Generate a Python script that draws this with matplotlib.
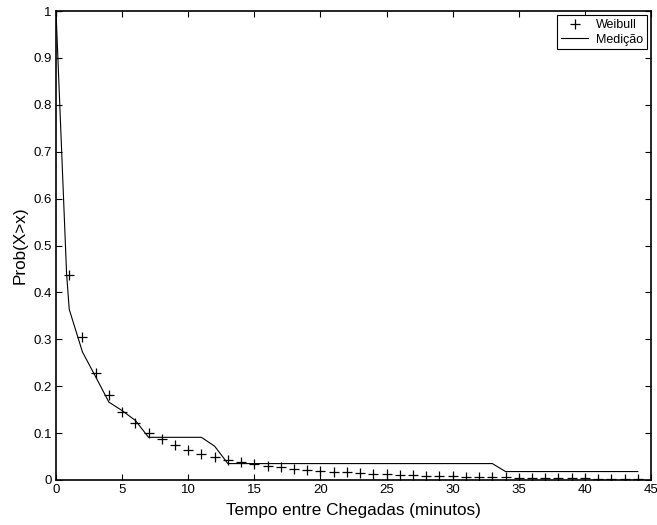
import matplotlib
matplotlib.use("Agg")
import matplotlib.pyplot as plt

plt.rcParams['font.family'] = ['Liberation Sans', 'DejaVu Sans']

# Weibull fit evaluated at integer minutes
weibull_x = list(range(0, 45))
weibull_y = [1.0, 0.437, 0.305, 0.228, 0.182, 0.146, 0.121, 0.101, 0.087, 0.074,
             0.064, 0.056, 0.049, 0.043, 0.038, 0.034, 0.030, 0.027, 0.024, 0.022,
             0.020, 0.018, 0.016, 0.0145, 0.013, 0.012, 0.011, 0.010, 0.009, 0.0083,
             0.0076, 0.007, 0.0064, 0.0059, 0.0054, 0.005, 0.0046, 0.0042, 0.0039, 0.0036,
             0.0033, 0.003, 0.0028, 0.0026, 0.0024]

# Measured complementary CDF
med_x = [0, 0.8] + list(range(1, 45))
med_y = [1.0, 0.44, 0.364, 0.273, 0.220, 0.166, 0.148, 0.127, 0.091, 0.091, 0.091,
         0.091, 0.091, 0.072, 0.035, 0.035, 0.035, 0.035, 0.035, 0.035, 0.035,
         0.035, 0.035, 0.035, 0.035, 0.035, 0.035, 0.035, 0.035, 0.035, 0.035,
         0.035, 0.035, 0.035, 0.035, 0.018, 0.018, 0.018, 0.018, 0.018, 0.018,
         0.018, 0.018, 0.018, 0.018, 0.018]

xticks = [0, 5, 10, 15, 20, 25, 30, 35, 40, 45]
yticks = [0, 0.1, 0.2, 0.3, 0.4, 0.5, 0.6, 0.7, 0.8, 0.9, 1]
yticklabels = ['0', '0.1', '0.2', '0.3', '0.4', '0.5', '0.6', '0.7', '0.8', '0.9', '1']

fig = plt.figure(figsize=(6.57, 5.25), dpi=100)
ax = fig.add_axes([56/657, 45/525, 595/657, 469/525])

ax.plot(weibull_x, weibull_y, linestyle='none', marker='+', color='black',
        markersize=7, markeredgewidth=0.9, label='Weibull')
ax.plot(med_x, med_y, color='black', linewidth=0.8, label='Medição')

ax.set_xlim(0, 45)
ax.set_ylim(0, 1)
ax.set_xticks(xticks)
ax.set_xticklabels([str(t) for t in xticks])
ax.set_yticks(yticks)
ax.set_yticklabels(yticklabels)
ax.tick_params(direction='in', top=True, right=True, length=4, width=0.8,
               labelsize=9.5, pad=3)
for s in ax.spines.values():
    s.set_linewidth(1.2)

ax.set_xlabel('Tempo entre Chegadas (minutos)', fontsize=12.3, labelpad=5)
ax.set_ylabel('Prob(X>x)', fontsize=12.3, labelpad=4)

leg = ax.legend(loc='upper right', fontsize=9, frameon=True, fancybox=False,
                edgecolor='black', framealpha=1, borderpad=0.3, handlelength=2.2,
                handletextpad=0.6, labelspacing=0.2, borderaxespad=0.35)
leg.get_frame().set_linewidth(0.8)

fig.savefig('out.png', dpi=100)
